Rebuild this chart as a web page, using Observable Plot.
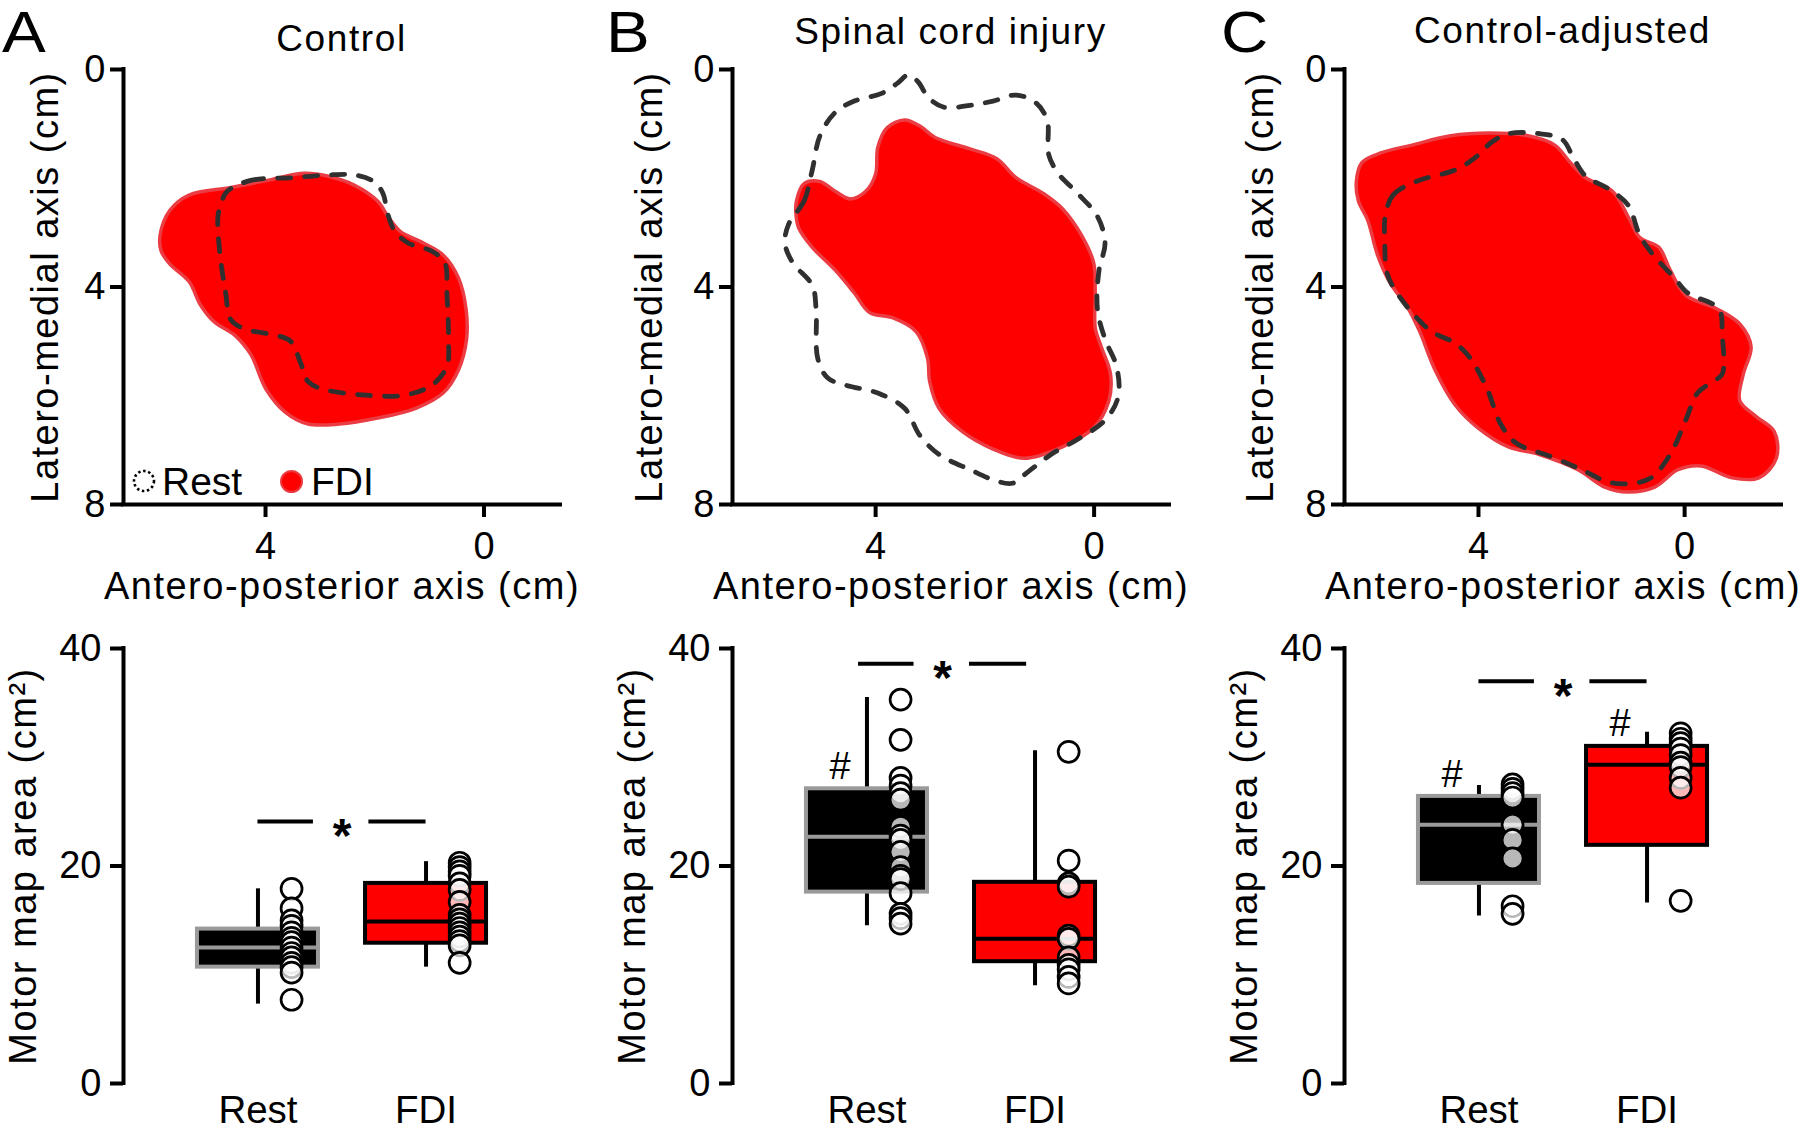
<!DOCTYPE html>
<html><head><meta charset="utf-8">
<script src="https://cdn.jsdelivr.net/npm/d3@7"></script>
<script src="https://cdn.jsdelivr.net/npm/@observablehq/plot@0.6"></script>
<style>
body{margin:0;background:#fff;}
#fig{position:relative;width:1800px;height:1131px;overflow:hidden;background:#fff;font-family:'Liberation Sans',Arial,sans-serif;color:#000;}
.abs{position:absolute;}
.title{font-size:37px;line-height:1;text-align:center;white-space:nowrap;letter-spacing:1.6px;}
.letter{font-size:57px;line-height:1;transform:scaleX(1.15);transform-origin:0 0;}
.leg{font-size:39px;line-height:1;white-space:nowrap;}
#fig svg g[aria-label$="axis label"] text{letter-spacing:1.5px;}
</style></head><body><div id="fig"></div>
<script>
// ---------- data ----------
const panelLetters = ["A", "B", "C"];
const panelTitles = ["Control", "Spinal cord injury", "Control-adjusted"];
const groups = ["Rest", "FDI"];
const mapXTicks = [4, 0];
const mapYTicks = [0, 4, 8];
const areaTicks = [0, 20, 40];

// motor maps, [antero-posterior cm, latero-medial cm]
const controlFDI = [[5.93,3.05],[5.75,2.59],[5.40,2.31],[4.63,2.17],[3.92,2.03],[3.29,1.91],[2.87,1.96],[2.37,2.13],[1.95,2.42],[1.74,2.73],[1.53,2.98],[1.11,3.19],[0.75,3.41],[0.47,3.83],[0.33,4.40],[0.32,4.96],[0.47,5.53],[0.75,5.95],[1.25,6.23],[1.95,6.41],[2.65,6.52],[3.22,6.52],[3.64,6.30],[3.99,5.88],[4.27,5.24],[4.56,4.89],[4.94,4.64],[5.19,4.33],[5.40,3.90],[5.75,3.58],[5.91,3.34]];
const controlRest = [[4.70,2.24],[4.27,2.04],[3.50,1.99],[2.87,1.94],[2.37,1.94],[2.02,2.06],[1.85,2.28],[1.77,2.63],[1.63,2.98],[1.39,3.19],[0.96,3.34],[0.72,3.55],[0.68,4.11],[0.65,4.96],[0.68,5.46],[0.96,5.81],[1.46,5.99],[2.16,5.99],[2.94,5.88],[3.22,5.74],[3.36,5.39],[3.54,5.00],[3.85,4.88],[4.35,4.78],[4.63,4.61],[4.73,4.11],[4.84,3.34],[4.87,2.70],[4.80,2.42]];
const sciFDI = [[5.45,2.42],[5.31,2.10],[5.02,2.06],[4.74,2.24],[4.46,2.38],[4.18,2.24],[4.00,1.92],[3.96,1.43],[3.79,1.07],[3.47,0.93],[3.19,1.04],[2.91,1.25],[2.27,1.46],[1.78,1.64],[1.43,1.99],[0.93,2.28],[0.58,2.56],[0.23,3.05],[0.01,3.55],[-0.02,4.11],[-0.02,4.75],[-0.13,5.10],[-0.30,5.60],[-0.27,6.09],[0.01,6.59],[0.58,6.94],[1.28,7.15],[1.85,6.98],[2.41,6.66],[2.84,6.23],[3.01,5.74],[3.05,5.31],[3.26,4.82],[3.68,4.57],[4.11,4.47],[4.39,4.11],[4.74,3.69],[5.16,3.27],[5.41,2.91],[5.46,2.63]];
const sciRest = [[5.59,2.84],[5.31,2.42],[5.16,1.85],[5.02,1.22],[4.74,0.79],[4.39,0.58],[3.89,0.44],[3.61,0.26],[3.40,0.10],[3.22,0.23],[3.04,0.51],[2.76,0.69],[2.27,0.66],[1.85,0.58],[1.43,0.47],[1.07,0.61],[0.86,0.93],[0.83,1.57],[0.65,1.92],[0.30,2.28],[-0.06,2.70],[-0.20,3.19],[-0.09,3.69],[-0.06,4.40],[-0.20,4.96],[-0.41,5.46],[-0.44,6.02],[-0.20,6.45],[0.30,6.80],[0.79,7.08],[1.21,7.40],[1.50,7.61],[1.78,7.57],[2.27,7.36],[2.84,7.08],[3.19,6.73],[3.47,6.23],[3.96,5.95],[4.53,5.81],[4.88,5.67],[5.06,5.31],[5.09,4.40],[5.16,3.97],[5.52,3.55],[5.66,3.19]];
const adjFDI = [[6.37,2.06],[6.26,1.71],[5.88,1.53],[5.29,1.39],[4.54,1.22],[3.79,1.17],[3.04,1.22],[2.52,1.39],[2.22,1.71],[1.92,1.99],[1.40,2.24],[1.10,2.70],[0.87,3.09],[0.50,3.27],[0.28,3.69],[-0.02,4.15],[-0.62,4.40],[-1.07,4.68],[-1.29,5.10],[-1.14,5.60],[-1.07,6.09],[-1.37,6.37],[-1.74,6.66],[-1.78,7.15],[-1.44,7.51],[-0.92,7.51],[-0.32,7.29],[0.13,7.36],[0.58,7.68],[1.10,7.77],[1.55,7.68],[2.07,7.36],[2.82,7.08],[3.42,6.94],[4.01,6.59],[4.46,6.16],[4.84,5.53],[5.14,4.82],[5.36,4.40],[5.73,3.90],[5.96,3.41],[6.15,2.77],[6.33,2.42]];
const adjRest = [[5.81,2.70],[5.66,2.31],[5.21,2.06],[4.46,1.85],[4.09,1.64],[3.72,1.32],[3.42,1.18],[2.82,1.18],[2.37,1.29],[2.15,1.64],[1.92,1.96],[1.47,2.20],[1.10,2.49],[0.87,3.05],[0.61,3.41],[0.20,3.83],[-0.06,4.11],[-0.66,4.40],[-0.73,4.89],[-0.73,5.60],[-0.55,5.74],[-0.25,5.95],[-0.02,6.45],[0.28,7.08],[0.65,7.51],[1.02,7.61],[1.47,7.59],[2.00,7.36],[2.59,7.12],[3.27,6.87],[3.57,6.52],[3.83,5.88],[4.16,5.31],[4.46,5.03],[4.91,4.82],[5.29,4.47],[5.58,4.11],[5.77,3.76],[5.82,3.12]];
const mapXDomains = [[6.6, -1.4], [6.62, -1.38], [6.6, -1.88]];

// motor map area (cm²): box stats [low whisker, Q1, median, Q3, high whisker]
const boxRestControl = [7.3, 10.7, 12.5, 14.2, 17.9];
const boxFdiControl  = [10.7, 12.9, 14.9, 18.4, 20.4];
const boxRestSci     = [14.5, 17.6, 22.7, 27.1, 35.5];
const boxFdiSci      = [9.0, 11.2, 13.3, 18.5, 30.6];
const boxRestAdj     = [15.4, 18.4, 23.8, 26.4, 27.4];
const boxFdiAdj      = [16.6, 21.9, 29.3, 31.0, 32.3];

// individual participants
const ptsRestControl = [17.9, 16.1, 15.0, 14.5, 13.9, 13.4, 13.0, 12.5, 12.0, 11.6, 11.1, 10.7, 10.2, 7.7];
const ptsFdiControl  = [20.3, 19.9, 19.5, 19.1, 18.4, 17.8, 16.7, 15.5, 15.1, 14.7, 14.3, 13.9, 13.5, 13.1, 12.7, 11.1];
const ptsRestSci     = [35.3, 31.6, 28.1, 27.4, 26.7, 26.1, 23.6, 22.8, 22.4, 21.3, 19.9, 19.1, 18.8, 17.5, 15.6, 15.2, 14.7];
const ptsFdiSci      = [30.5, 20.5, 18.4, 18.1, 13.6, 13.3, 11.6, 10.9, 10.5, 9.8, 9.2];
const ptsRestAdj     = [27.5, 27.1, 26.7, 26.3, 23.8, 22.4, 20.7, 16.3, 15.6];
const ptsFdiAdj      = [32.2, 31.7, 31.3, 30.8, 30.2, 29.5, 29.1, 28.1, 27.2, 16.8];

// annotations
const sigLevels = [24.1, 38.6, 37.0];          // "*" Rest vs FDI
const hashMarks = [[], [{g: 0, v: 29.1}], [{g: 0, v: 28.4}, {g: 1, v: 33.1}]];

// ---------- layout / style ----------
const FONT = "'Liberation Sans', Arial, sans-serif";
const panelLeft = [0, 609, 1221];
const panelWidth = [600, 600, 579];
const FRAME_R = 560, M_LEFT = 123;
const yLabelOffsets = [92, 97, 98];
const sigShift = [0, -0.05, 0];
const fdiMaps = [controlFDI, sciFDI, adjFDI];
const restMaps = [controlRest, sciRest, adjRest];
const boxSets = [[boxRestControl, boxFdiControl], [boxRestSci, boxFdiSci], [boxRestAdj, boxFdiAdj]];
const ptSets = [[ptsRestControl, ptsFdiControl], [ptsRestSci, ptsFdiSci], [ptsRestAdj, ptsFdiAdj]];
const boxFill = ["#000000", "#ff0000"];
const boxStroke = ["#9a9a9a", "#000000"];
const BOX_HALF = 0.36, DOT_DX = 0.2, HASH_DX = -0.16, SIG_GAP = 0.16;
const AX = 4;

const fig = document.getElementById("fig");
function place(node, left, top, width) {
  const d = document.createElement("div");
  d.className = "abs";
  d.style.left = left + "px"; d.style.top = top + "px";
  if (width) d.style.width = width + "px";
  d.appendChild(node);
  fig.appendChild(d);
  return d;
}
function textDiv(cls, txt, left, top, width) {
  const d = document.createElement("div");
  d.className = "abs " + cls;
  d.textContent = txt;
  d.style.left = left + "px"; d.style.top = top + "px";
  if (width) d.style.width = width + "px";
  fig.appendChild(d);
}
const intFmt = d => `${d}`;

function mapPlot(k) {
  const w = panelWidth[k];
  const xd = mapXDomains[k];
  return Plot.plot({
    width: w, height: 610,
    marginLeft: M_LEFT, marginRight: w - FRAME_R, marginTop: 69, marginBottom: 106,
    style: {fontFamily: FONT, fontSize: "38px", color: "#000", background: "transparent", overflow: "visible"},
    x: {domain: xd},
    y: {domain: [0, 8], reverse: true},
    marks: [
      Plot.line(fdiMaps[k], {curve: "catmull-rom-closed", fill: "#ff0000", stroke: "#ea3c42", strokeWidth: 3.5}),
      Plot.line(restMaps[k], {curve: "catmull-rom-closed", stroke: "#303030", strokeWidth: 4.8, strokeDasharray: "13,14"}),
      Plot.ruleX([xd[0]], {strokeWidth: AX, strokeLinecap: "square"}),
      Plot.ruleY([8], {strokeWidth: AX, strokeLinecap: "square"}),
      Plot.axisY(mapYTicks, {tickSize: 13, tickPadding: 5, strokeWidth: AX, fontSize: 38, tickFormat: intFmt,
        label: "Latero-medial axis (cm)", labelAnchor: "center", labelArrow: "none", labelOffset: yLabelOffsets[k]}),
      Plot.axisX(mapXTicks, {tickSize: 13, tickPadding: 15, strokeWidth: AX, fontSize: 38, tickFormat: intFmt,
        label: "Antero-posterior axis (cm)", labelAnchor: "center", labelArrow: "none", labelOffset: 94})
    ]
  });
}

function areaPlot(k) {
  const w = panelWidth[k];
  const boxes = groups.map((g, i) => {
    const [lo, q1, med, q3, hi] = boxSets[k][i];
    return {g: i, lo, q1, med, q3, hi};
  });
  const pts = groups.flatMap((g, i) => ptSets[k][i].map(v => ({g: i, v})));
  const mid = (groups.length - 1) / 2 + sigShift[k];
  const sigSegs = [{x1: sigShift[k], x2: mid - SIG_GAP - 0.01}, {x1: mid + SIG_GAP, x2: groups.length - 1 + sigShift[k]}];
  const xd = [-0.8, 1.8];
  return Plot.plot({
    width: w, height: 531,
    marginLeft: M_LEFT, marginRight: w - FRAME_R, marginTop: 48, marginBottom: 48,
    style: {fontFamily: FONT, fontSize: "38px", color: "#000", background: "transparent", overflow: "visible"},
    x: {domain: xd},
    y: {domain: [0, 40]},
    color: {type: "identity"},
    marks: [
      Plot.ruleX(boxes, {x: "g", y1: "lo", y2: "hi", stroke: "#000", strokeWidth: AX}),
      Plot.rect(boxes, {x1: d => d.g - BOX_HALF, x2: d => d.g + BOX_HALF, y1: "q1", y2: "q3",
        fill: d => boxFill[d.g], stroke: d => boxStroke[d.g], strokeWidth: AX}),
      Plot.ruleY(boxes, {x1: d => d.g - BOX_HALF, x2: d => d.g + BOX_HALF, y: "med", stroke: d => boxStroke[d.g], strokeWidth: AX}),
      Plot.dot(pts, {x: d => d.g + DOT_DX, y: "v", r: 10.5, fill: "#ffffff", fillOpacity: 0.72, stroke: "#000", strokeWidth: 2.7}),
      Plot.ruleY(sigSegs, {x1: "x1", x2: "x2", y: () => sigLevels[k], stroke: "#000", strokeWidth: AX}),
      Plot.text(["*"], {x: () => mid, y: () => sigLevels[k], fontSize: 48, fontWeight: "bold", dy: 15, lineAnchor: "middle"}),
      Plot.text(hashMarks[k], {x: d => d.g + HASH_DX, y: "v", text: () => "#", fontSize: 38, lineAnchor: "middle"}),
      Plot.ruleX([xd[0]], {y1: areaTicks[0], y2: areaTicks[areaTicks.length - 1], strokeWidth: AX, strokeLinecap: "square"}),
      Plot.axisY(areaTicks, {tickSize: 13, tickPadding: 9, strokeWidth: AX, fontSize: 38,
        label: "Motor map area (cm²)", labelAnchor: "center", labelArrow: "none", labelOffset: 114}),
      Plot.axisX(groups.map((g, i) => i), {tickFormat: i => groups[i], tickSize: 0, tickPadding: 12, fontSize: 38.5, label: null})
    ]
  });
}

for (let k = 0; k < 3; k++) {
  place(mapPlot(k), panelLeft[k], 0, panelWidth[k]);
  place(areaPlot(k), panelLeft[k], 600, panelWidth[k]);
}
// titles & letters
const titleTops = [20, 13, 12];
panelTitles.forEach((t, k) => textDiv("title", t, panelLeft[k] + M_LEFT, titleTops[k], FRAME_R - M_LEFT));
const letterLefts = [2, 606, 1221];
panelLetters.forEach((t, k) => textDiv("letter", t, letterLefts[k], 4));

// legend (panel A)
const NS = "http://www.w3.org/2000/svg";
function circleIcon(r, fill, stroke, dash, sw) {
  const s = document.createElementNS(NS, "svg");
  const size = 2 * r + 6;
  s.setAttribute("width", size); s.setAttribute("height", size);
  const c = document.createElementNS(NS, "circle");
  c.setAttribute("cx", size / 2); c.setAttribute("cy", size / 2); c.setAttribute("r", r);
  c.setAttribute("fill", fill); c.setAttribute("stroke", stroke); c.setAttribute("stroke-width", sw);
  if (dash) c.setAttribute("stroke-dasharray", dash);
  s.appendChild(c);
  return s;
}
place(circleIcon(10, "none", "#000", "2.5,2.6", 2.6), 144 - 13, 481 - 13);
place(circleIcon(10.5, "#ff0000", "#eb3b40", null, 2), 291 - 13.5, 481 - 13.5);
textDiv("leg", "Rest", 162, 462);
textDiv("leg", "FDI", 311, 462);
</script></body></html>
